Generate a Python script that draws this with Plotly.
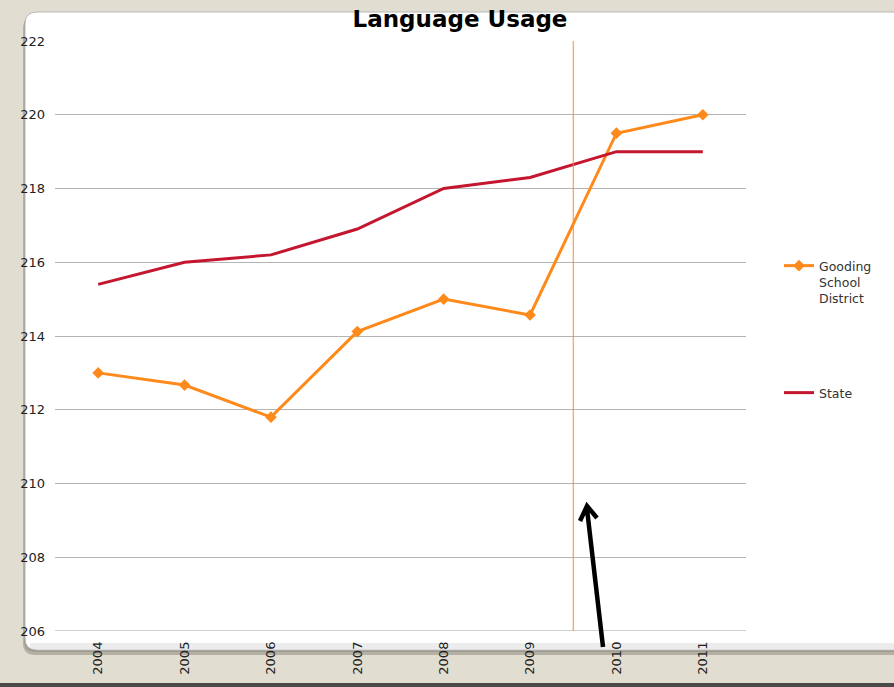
import plotly.graph_objects as go

years = ["2004", "2005", "2006", "2007", "2008", "2009", "2010", "2011"]
gooding = [213.0, 212.67, 211.8, 214.12, 215.0, 214.57, 219.5, 220.0]
state = [215.4, 216.0, 216.2, 216.9, 218.0, 218.3, 219.0, 219.0]
y_ticks = [206, 208, 210, 212, 214, 216, 218, 220, 222]

W, H = 894, 687
L, R, T, B = 55, 746, 41, 631  # plot area in px


def px(xp):
    return (xp - L) / (R - L)


def py(yp):
    return (B - yp) / (B - T)


fig = go.Figure()
fig.add_trace(go.Scatter(
    x=years, y=gooding, mode="lines+markers", name="Gooding<br>School<br>District",
    line=dict(color="#FF8A1C", width=3),
    marker=dict(symbol="diamond", size=9, color="#FF8A1C"),
    legend="legend",
))
fig.add_trace(go.Scatter(
    x=years, y=state, mode="lines", name="State",
    line=dict(color="#C4162E", width=3),
    legend="legend2",
))

shapes = []
r = 12
rx, ry = r / (R - L), r / (B - T)


def panel_path(dx=0, dy=0):
    a0, a1 = px(25 + dx), px(1000)
    b0, b1 = py(650 + dy), py(12 + dy)
    return (f"M {a0+rx},{b1} L {a1},{b1} L {a1},{b0} L {a0+rx},{b0} "
            f"Q {a0},{b0} {a0},{b0+ry} L {a0},{b1-ry} Q {a0},{b1} {a0+rx},{b1} Z")


shapes.append(dict(type="path", xref="paper", yref="paper", path=panel_path(-2, 5),
                   fillcolor="#B5B0A4", line=dict(width=0), layer="below"))
shapes.append(dict(type="path", xref="paper", yref="paper", path=panel_path(-1, 2),
                   fillcolor="#9E9A90", line=dict(width=0), layer="below"))
shapes.append(dict(type="path", xref="paper", yref="paper", path=panel_path(),
                   fillcolor="white", line=dict(width=1, color="#B8B8B8"), layer="below"))
# bottom shading of panel
shapes.append(dict(type="rect", xref="paper", yref="paper", x0=px(30), x1=px(1000),
                   y0=py(649), y1=py(643), fillcolor="rgba(200,200,200,0.35)",
                   line=dict(width=0), layer="below"))
# dark bar at bottom
shapes.append(dict(type="rect", xref="paper", yref="paper", x0=px(-10), x1=px(1000),
                   y0=py(690), y1=py(683), fillcolor="#4A4A4A", line=dict(width=0)))
# bottom gridline
shapes.append(dict(type="line", xref="paper", yref="y", x0=0, x1=1, y0=206, y1=206,
                   line=dict(color="#A0A0A0", width=1)))
# vertical marker between 2009 and 2010
shapes.append(dict(type="line", xref="x", yref="y", x0=5.5, x1=5.5, y0=206, y1=222,
                   line=dict(color="#FF8A1C", width=1)))
# black arrow
tip = (587, 506)
shapes.append(dict(type="path", xref="paper", yref="paper",
                   path=(f"M {px(603)},{py(647)} L {px(tip[0])},{py(tip[1]+3)} "
                         f"M {px(580)},{py(521)} L {px(tip[0])},{py(tip[1])} L {px(597)},{py(518)}"),
                   line=dict(color="black", width=4.5)))

fig.update_layout(
    width=W, height=H,
    margin=dict(l=L, r=W - R, t=T, b=H - B),
    paper_bgcolor="#E2DDD1",
    plot_bgcolor="rgba(0,0,0,0)",
    shapes=shapes,
    showlegend=True,
    font=dict(family="DejaVu Sans", size=13, color="#333333"),
    title=dict(text="<b>Language Usage</b>", x=px(460), xref="paper", xanchor="center",
               y=1 - 19 / H, yref="container", yanchor="middle",
               font=dict(family="DejaVu Sans", size=23, color="black")),
    xaxis=dict(type="category", range=[-0.5, 7.5], showgrid=False, showline=False,
               zeroline=False, tickangle=-90, ticks="", ticklabelstandoff=7,
               tickfont=dict(size=13, color="#222")),
    yaxis=dict(range=[206, 222], tickvals=y_ticks, showgrid=True, gridcolor="#B4B4B4",
               gridwidth=1, zeroline=False, showline=False, ticks="",
               ticklabelstandoff=9, tickfont=dict(size=13, color="#222")),
    legend=dict(x=px(779), y=py(251), xanchor="left", yanchor="top", valign="top",
                bgcolor="rgba(0,0,0,0)", font=dict(size=12.5, color="#333")),
    legend2=dict(x=px(779), y=py(378), xanchor="left", yanchor="top",
                 bgcolor="rgba(0,0,0,0)", font=dict(size=12.5, color="#333")),
)

fig.write_html("out.html", config={"displayModeBar": False},
               post_script="document.body.style.margin='0';document.body.style.padding='0';")
